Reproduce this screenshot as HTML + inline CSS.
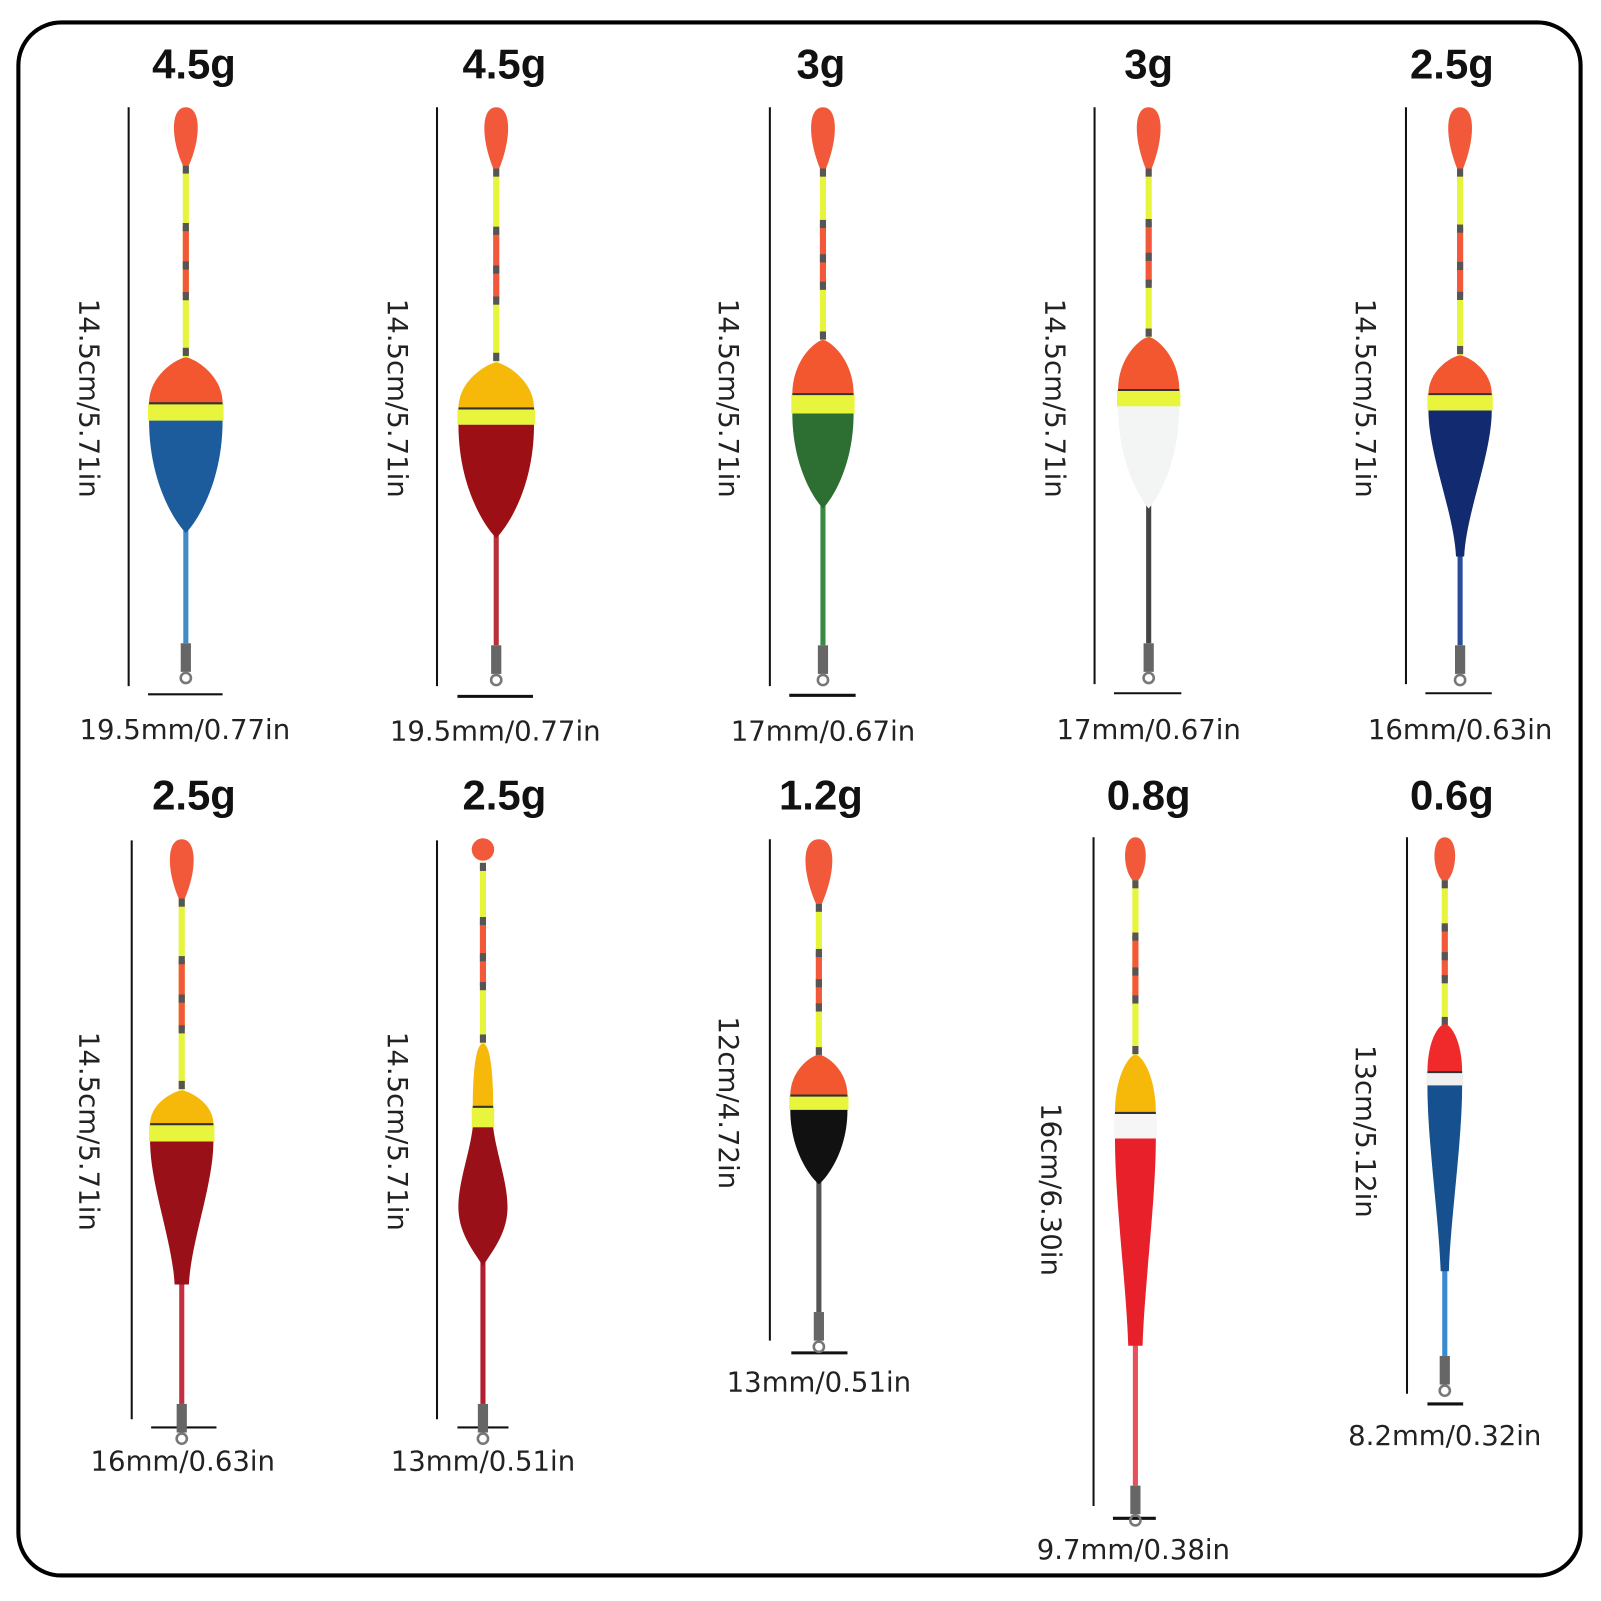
<!DOCTYPE html>
<html><head><meta charset="utf-8"><style>
html,body{margin:0;padding:0;background:#fff;}
svg{display:block;}
text{font-family:"DejaVu Sans","Liberation Sans",sans-serif;fill:#222;}
.w{font-family:"Liberation Sans",sans-serif;font-weight:bold;font-size:41px;fill:#111;text-anchor:middle;}
.d{font-size:27px;text-anchor:middle;}
</style></head><body>
<svg id="s" width="1601" height="1601" viewBox="0 0 1568 1568" xmlns="http://www.w3.org/2000/svg">
<rect x="18" y="22" width="1530" height="1521" rx="42" fill="#fff" stroke="#000" stroke-width="4"/>
<g stroke="#111" stroke-width="2">
<line x1="126" y1="105" x2="126" y2="672"/><line x1="145" y1="680" x2="218" y2="680"/>
<line x1="428" y1="105" x2="428" y2="672"/><line x1="448" y1="682" x2="522" y2="682" stroke-width="3"/>
<line x1="754" y1="105" x2="754" y2="672"/><line x1="773" y1="681" x2="838" y2="681" stroke-width="3"/>
<line x1="1072" y1="105" x2="1072" y2="670"/><line x1="1091" y1="679" x2="1157" y2="679"/>
<line x1="1377" y1="105" x2="1377" y2="670"/><line x1="1396" y1="679" x2="1461" y2="679"/>
<line x1="129" y1="823" x2="129" y2="1390"/><line x1="148" y1="1398" x2="212" y2="1398"/>
<line x1="428" y1="823" x2="428" y2="1390"/><line x1="448" y1="1398" x2="498" y2="1398"/>
<line x1="754" y1="822" x2="754" y2="1313"/><line x1="775" y1="1325" x2="830" y2="1325" stroke-width="3"/>
<line x1="1071" y1="820" x2="1071" y2="1475"/><line x1="1090" y1="1487" x2="1132" y2="1487" stroke-width="3"/>
<line x1="1378" y1="820" x2="1378" y2="1365"/><line x1="1398" y1="1375" x2="1433" y2="1375" stroke-width="3"/>
</g>
<text class="w" x="190" y="77">4.5g</text>
<text class="w" x="494" y="77">4.5g</text>
<text class="w" x="804" y="77">3g</text>
<text class="w" x="1125" y="77">3g</text>
<text class="w" x="1422" y="77">2.5g</text>
<text class="w" x="190" y="793">2.5g</text>
<text class="w" x="494" y="793">2.5g</text>
<text class="w" x="804" y="793">1.2g</text>
<text class="w" x="1125" y="793">0.8g</text>
<text class="w" x="1422" y="793">0.6g</text>
<text class="d" x="181" y="724">19.5mm/0.77in</text>
<text class="d" x="485" y="725">19.5mm/0.77in</text>
<text class="d" x="806" y="725">17mm/0.67in</text>
<text class="d" x="1125" y="724">17mm/0.67in</text>
<text class="d" x="1430" y="724">16mm/0.63in</text>
<text class="d" x="179" y="1440">16mm/0.63in</text>
<text class="d" x="473" y="1440">13mm/0.51in</text>
<text class="d" x="802" y="1363">13mm/0.51in</text>
<text class="d" x="1110" y="1527">9.7mm/0.38in</text>
<text class="d" x="1415" y="1415">8.2mm/0.32in</text>
<text class="d" transform="translate(78,390) rotate(90)">14.5cm/5.71in</text>
<text class="d" transform="translate(380,390) rotate(90)">14.5cm/5.71in</text>
<text class="d" transform="translate(704,390) rotate(90)">14.5cm/5.71in</text>
<text class="d" transform="translate(1024,390) rotate(90)">14.5cm/5.71in</text>
<text class="d" transform="translate(1328,390) rotate(90)">14.5cm/5.71in</text>
<text class="d" transform="translate(78,1108) rotate(90)">14.5cm/5.71in</text>
<text class="d" transform="translate(380,1108) rotate(90)">14.5cm/5.71in</text>
<text class="d" transform="translate(704,1080) rotate(90)">12cm/4.72in</text>
<text class="d" transform="translate(1020,1165) rotate(90)">16cm/6.30in</text>
<text class="d" transform="translate(1328,1108) rotate(90)">13cm/5.12in</text>
<g id="f"></g>
</svg>
<script>
var g=document.getElementById('f'),o='';
function P(d,c){o+='<path d="'+d+'" fill="'+c+'"/>';}
function R(x,y,w,h,c){o+='<rect x="'+x+'" y="'+y+'" width="'+w+'" height="'+h+'" fill="'+c+'"/>';}
function fl(p){
 var cx=p.cx,Y='#e6f53c',O='#f2593a',D='#555';
 R(cx-2.5,p.bodyBot-5,5,p.sw-p.bodyBot+5,p.sc);
 R(cx-5,p.sw,10,28,'#666');
 o+='<circle cx="'+cx+'" cy="'+(p.sw+34)+'" r="5" fill="none" stroke="#777" stroke-width="2.5"/>';
 var a=p.tb,b=p.st,h=b-a;
 R(cx-3,a,6,h,Y);
 R(cx-3,a+h*0.32,6,h*0.36,O);
 [0,0.3,0.5,0.66,0.95].forEach(function(f){R(cx-3,a+h*f,6,8,D);});
 if(p.round){o+='<circle cx="'+cx+'" cy="'+(p.tt+10)+'" r="11" fill="'+O+'"/>';}
 else{var w=p.tw;P('M'+(cx-3)+','+p.tb+' C'+(cx-w/2)+','+(p.tt+30)+' '+(cx-w/2)+','+p.tt+' '+cx+','+p.tt+' C'+(cx+w/2)+','+p.tt+' '+(cx+w/2)+','+(p.tt+30)+' '+(cx+3)+','+p.tb+'Z',O);}
 var w=p.dw,t=p.st,bt=p.db;
 P('M'+(cx-w/2)+','+bt+' C'+(cx-w/2)+','+(t+(bt-t)*0.35)+' '+(cx-6)+','+t+' '+cx+','+t+' C'+(cx+6)+','+t+' '+(cx+w/2)+','+(t+(bt-t)*0.35)+' '+(cx+w/2)+','+bt+'Z',p.dc);
 R(cx-w/2-1,p.db,w+2,p.bb-p.db,p.bc);
 o+='<line x1="'+(cx-w/2)+'" y1="'+p.db+'" x2="'+(cx+w/2)+'" y2="'+p.db+'" stroke="#333" stroke-width="2"/>';
 var bw=p.bw,t2=p.bb,b2=p.bodyBot,H=b2-t2,ww=p.bwTop||w;
 if(p.custom){P(p.custom,p.bc2);return;}
 if(p.egg){
  P('M'+(cx-ww/2)+','+t2+' C'+(cx-ww/2)+','+(t2+H*0.55)+' '+(cx-ww*0.15)+','+(b2-H*0.1)+' '+cx+','+b2+' C'+(cx+ww*0.15)+','+(b2-H*0.1)+' '+(cx+ww/2)+','+(t2+H*0.55)+' '+(cx+ww/2)+','+t2+'Z',p.bc2);
 } else {
  P('M'+(cx-ww/2)+','+t2+' C'+(cx-ww/2)+','+(t2+H*0.3)+' '+(cx-bw/2-2)+','+(b2-H*0.3)+' '+(cx-bw/2)+','+b2+' L'+(cx+bw/2)+','+b2+' C'+(cx+bw/2+2)+','+(b2-H*0.3)+' '+(cx+ww/2)+','+(t2+H*0.3)+' '+(cx+ww/2)+','+t2+'Z',p.bc2);
 }
}
var OR='#f2572f',YB='#e8f53c',GO='#f6b90a';
fl({cx:182,tt:105,tb:162,tw:30,st:350,db:395,dw:72,dc:OR,bb:412,bc:YB,bodyBot:522,egg:1,bc2:'#1c5c9c',sw:630,sc:'#3f8cc8'});
fl({cx:486,tt:105,tb:165,tw:30,st:355,db:400,dw:74,dc:GO,bb:416,bc:YB,bodyBot:527,egg:1,bc2:'#9c1015',sw:632,sc:'#b8303a'});
fl({cx:806,tt:105,tb:165,tw:30,st:333,db:386,dw:60,dc:OR,bb:405,bc:YB,bodyBot:498,egg:1,bc2:'#2d6e32',sw:632,sc:'#3a8a44'});
fl({cx:1125,tt:105,tb:165,tw:30,st:330,db:382,dw:60,dc:OR,bb:398,bc:YB,bodyBot:498,egg:1,bc2:'#f3f5f5',sw:630,sc:'#444'});
fl({cx:1430,tt:105,tb:165,tw:30,st:348,db:386,dw:62,dc:OR,bb:402,bc:YB,bodyBot:545,bw:8,bc2:'#122a70',sw:632,sc:'#2a4d9a'});
fl({cx:178,tt:822,tb:880,tw:30,st:1068,db:1101,dw:62,dc:GO,bb:1118,bc:YB,bodyBot:1258,bw:14,bc2:'#9a1018',sw:1375,sc:'#c03040'});
fl({cx:473,tt:822,tb:845,tw:20,round:1,st:1022,db:1084,dw:20,dc:GO,bb:1104,bc:YB,bodyBot:1240,bc2:'#9a1018',sw:1375,sc:'#b02030',
 custom:'M463,1104 C460,1130 448,1160 449,1185 C450,1210 466,1228 473,1240 C480,1228 496,1210 497,1185 C498,1160 486,1130 483,1104 Z'});
fl({cx:802,tt:822,tb:885,tw:34,st:1033,db:1073,dw:56,dc:OR,bb:1087,bc:YB,bodyBot:1160,egg:1,bc2:'#111',sw:1285,sc:'#555'});
fl({cx:1112,tt:820,tb:862,tw:26,st:1033,db:1090,dw:40,dc:GO,bb:1115,bc:'#f6f6f6',bodyBot:1318,bw:14,bc2:'#e8202a',sw:1455,sc:'#e8505a'});
fl({cx:1415,tt:820,tb:862,tw:26,st:1003,db:1050,dw:34,dc:'#f02a2a',bb:1063,bc:'#f0f0f0',bodyBot:1245,bw:8,bc2:'#17508e',sw:1328,sc:'#3a8ad0'});
g.innerHTML=o;
</script>
</body></html>
